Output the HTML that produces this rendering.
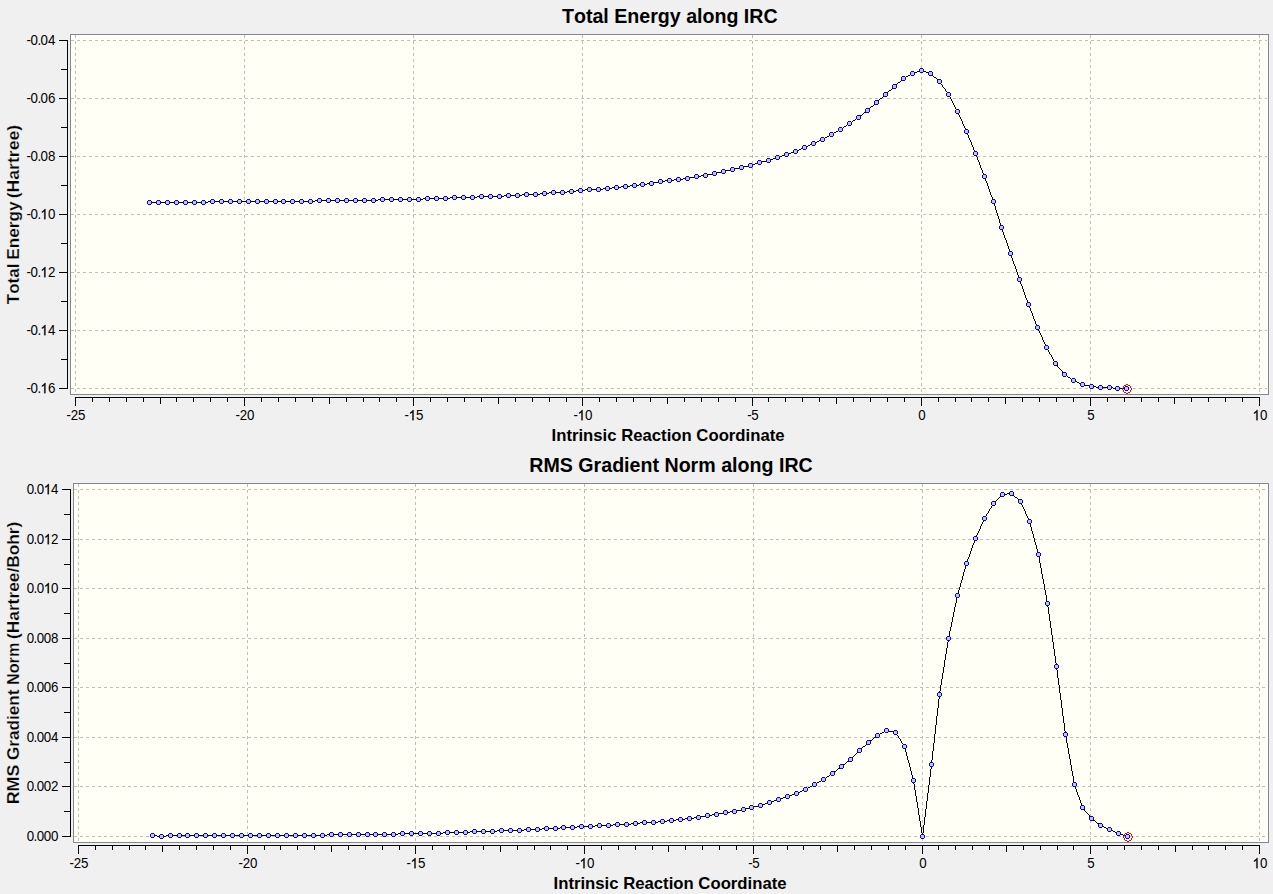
<!DOCTYPE html>
<html><head><meta charset="utf-8"><title>IRC</title>
<style>html,body{margin:0;padding:0;background:#F0F0F0;overflow:hidden}svg{display:block}text{font-family:"Liberation Sans",sans-serif;fill:#000;font-kerning:none}.tk text{font-size:13.33px}.tt{font-size:19.5px;font-weight:bold}.al{font-size:16.7px;font-weight:bold}.yl{stroke:#F0F0F0;stroke-width:0.22px}</style></head><body>
<svg width="1273" height="894" viewBox="0 0 1273 894">
<defs>
<g id="m" shape-rendering="crispEdges"><rect x="-1" y="-1" width="3" height="3" fill="#C8C8C8"/><path fill="#0000FF" d="M-1 -2h3v1h-3zM-1 2h3v1h-3zM-2 -1h1v3h-1zM2 -1h1v3h-1z"/></g>
<path id="r" fill="#FF0000" shape-rendering="crispEdges" d="M0 -4h1v1h-1zM1 -4h1v1h-1zM-2 -3h1v1h-1zM-1 -3h1v1h-1zM2 -3h1v1h-1zM3 -3h1v1h-1zM-3 -2h1v1h-1zM4 -2h1v1h-1zM-3 -1h1v1h-1zM4 -1h1v1h-1zM-4 0h1v1h-1zM5 0h1v1h-1zM-4 1h1v1h-1zM5 1h1v1h-1zM-3 2h1v1h-1zM4 2h1v1h-1zM-3 3h1v1h-1zM4 3h1v1h-1zM-2 4h1v1h-1zM-1 4h1v1h-1zM2 4h1v1h-1zM3 4h1v1h-1zM0 5h1v1h-1zM1 5h1v1h-1z"/>
<path id="one" fill="#000" stroke="#000" stroke-width="40" shape-rendering="geometricPrecision" d="M763 0L583 0L583 1147Q518 1085 412.5 1023Q307 961 223 930L223 1104Q374 1175 487 1276Q600 1377 647 1472L763 1472Z"/>
</defs>
<rect width="1273" height="894" fill="#F0F0F0"/>
<g shape-rendering="crispEdges">
<rect x="70.5" y="34.5" width="1198" height="360" fill="#FFFFF5" stroke="#828790"/>
<g stroke="#BEBEBE" stroke-dasharray="3 3" fill="none">
<line x1="71" y1="40.5" x2="1267" y2="40.5"/>
<line x1="71" y1="98.5" x2="1267" y2="98.5"/>
<line x1="71" y1="156.5" x2="1267" y2="156.5"/>
<line x1="71" y1="214.5" x2="1267" y2="214.5"/>
<line x1="71" y1="272.5" x2="1267" y2="272.5"/>
<line x1="71" y1="330.5" x2="1267" y2="330.5"/>
<line x1="71" y1="388.5" x2="1267" y2="388.5"/>
<line x1="75.5" y1="35" x2="75.5" y2="393"/>
<line x1="244.5" y1="35" x2="244.5" y2="393"/>
<line x1="413.5" y1="35" x2="413.5" y2="393"/>
<line x1="582.5" y1="35" x2="582.5" y2="393"/>
<line x1="752.5" y1="35" x2="752.5" y2="393"/>
<line x1="921.5" y1="35" x2="921.5" y2="393"/>
<line x1="1090.5" y1="35" x2="1090.5" y2="393"/>
<line x1="1259.5" y1="35" x2="1259.5" y2="393"/>
</g>
<g fill="#000">
<rect x="67" y="40" width="1" height="349"/>
<rect x="59" y="40" width="8" height="1"/>
<rect x="59" y="98" width="8" height="1"/>
<rect x="59" y="156" width="8" height="1"/>
<rect x="59" y="214" width="8" height="1"/>
<rect x="59" y="272" width="8" height="1"/>
<rect x="59" y="330" width="8" height="1"/>
<rect x="59" y="388" width="8" height="1"/>
<rect x="61" y="69" width="6" height="1"/>
<rect x="61" y="127" width="6" height="1"/>
<rect x="61" y="185" width="6" height="1"/>
<rect x="61" y="243" width="6" height="1"/>
<rect x="61" y="301" width="6" height="1"/>
<rect x="61" y="359" width="6" height="1"/>
<rect x="75" y="397" width="1185" height="1"/>
<rect x="75" y="397" width="1" height="9"/>
<rect x="92" y="397" width="1" height="5"/>
<rect x="109" y="397" width="1" height="5"/>
<rect x="126" y="397" width="1" height="5"/>
<rect x="143" y="397" width="1" height="5"/>
<rect x="160" y="397" width="1" height="7"/>
<rect x="176" y="397" width="1" height="5"/>
<rect x="193" y="397" width="1" height="5"/>
<rect x="210" y="397" width="1" height="5"/>
<rect x="227" y="397" width="1" height="5"/>
<rect x="244" y="397" width="1" height="9"/>
<rect x="261" y="397" width="1" height="5"/>
<rect x="278" y="397" width="1" height="5"/>
<rect x="295" y="397" width="1" height="5"/>
<rect x="312" y="397" width="1" height="5"/>
<rect x="329" y="397" width="1" height="7"/>
<rect x="346" y="397" width="1" height="5"/>
<rect x="363" y="397" width="1" height="5"/>
<rect x="379" y="397" width="1" height="5"/>
<rect x="396" y="397" width="1" height="5"/>
<rect x="413" y="397" width="1" height="9"/>
<rect x="430" y="397" width="1" height="5"/>
<rect x="447" y="397" width="1" height="5"/>
<rect x="464" y="397" width="1" height="5"/>
<rect x="481" y="397" width="1" height="5"/>
<rect x="498" y="397" width="1" height="7"/>
<rect x="515" y="397" width="1" height="5"/>
<rect x="532" y="397" width="1" height="5"/>
<rect x="549" y="397" width="1" height="5"/>
<rect x="566" y="397" width="1" height="5"/>
<rect x="582" y="397" width="1" height="9"/>
<rect x="599" y="397" width="1" height="5"/>
<rect x="616" y="397" width="1" height="5"/>
<rect x="633" y="397" width="1" height="5"/>
<rect x="650" y="397" width="1" height="5"/>
<rect x="667" y="397" width="1" height="7"/>
<rect x="684" y="397" width="1" height="5"/>
<rect x="701" y="397" width="1" height="5"/>
<rect x="718" y="397" width="1" height="5"/>
<rect x="735" y="397" width="1" height="5"/>
<rect x="752" y="397" width="1" height="9"/>
<rect x="768" y="397" width="1" height="5"/>
<rect x="785" y="397" width="1" height="5"/>
<rect x="802" y="397" width="1" height="5"/>
<rect x="819" y="397" width="1" height="5"/>
<rect x="836" y="397" width="1" height="7"/>
<rect x="853" y="397" width="1" height="5"/>
<rect x="870" y="397" width="1" height="5"/>
<rect x="887" y="397" width="1" height="5"/>
<rect x="904" y="397" width="1" height="5"/>
<rect x="921" y="397" width="1" height="9"/>
<rect x="938" y="397" width="1" height="5"/>
<rect x="955" y="397" width="1" height="5"/>
<rect x="971" y="397" width="1" height="5"/>
<rect x="988" y="397" width="1" height="5"/>
<rect x="1005" y="397" width="1" height="7"/>
<rect x="1022" y="397" width="1" height="5"/>
<rect x="1039" y="397" width="1" height="5"/>
<rect x="1056" y="397" width="1" height="5"/>
<rect x="1073" y="397" width="1" height="5"/>
<rect x="1090" y="397" width="1" height="9"/>
<rect x="1107" y="397" width="1" height="5"/>
<rect x="1124" y="397" width="1" height="5"/>
<rect x="1141" y="397" width="1" height="5"/>
<rect x="1158" y="397" width="1" height="5"/>
<rect x="1174" y="397" width="1" height="7"/>
<rect x="1191" y="397" width="1" height="5"/>
<rect x="1208" y="397" width="1" height="5"/>
<rect x="1225" y="397" width="1" height="5"/>
<rect x="1242" y="397" width="1" height="5"/>
<rect x="1259" y="397" width="1" height="9"/>
</g>
<g class="tk">
<text transform="translate(55.3 45.2) scale(1 1.065)" x="-28.83 -24.74 -17.88 -14.83 -7.41">-0.04</text>
<text transform="translate(55.3 103.2) scale(1 1.065)" x="-28.83 -24.74 -17.88 -14.83 -7.41">-0.06</text>
<text transform="translate(55.3 161.2) scale(1 1.065)" x="-28.83 -24.74 -17.88 -14.83 -7.41">-0.08</text>
<text transform="translate(55.3 219.2) scale(1 1.065)" x="-28.83 -24.74 -17.88 -14.83 -7.41">-0. 0</text>
<use href="#one" transform="translate(40.47 219.2) scale(0.006509 -0.006932)"/>
<text transform="translate(55.3 277.2) scale(1 1.065)" x="-28.83 -24.74 -17.88 -14.83 -7.41">-0. 2</text>
<use href="#one" transform="translate(40.47 277.2) scale(0.006509 -0.006932)"/>
<text transform="translate(55.3 335.2) scale(1 1.065)" x="-28.83 -24.74 -17.88 -14.83 -7.41">-0. 4</text>
<use href="#one" transform="translate(40.47 335.2) scale(0.006509 -0.006932)"/>
<text transform="translate(55.3 393.2) scale(1 1.065)" x="-28.83 -24.74 -17.88 -14.83 -7.41">-0. 6</text>
<use href="#one" transform="translate(40.47 393.2) scale(0.006509 -0.006932)"/>
<text transform="translate(76.0 420.2) scale(1 1.065)" x="-9.46 -5.37 2.04">-25</text>
<text transform="translate(245.0 420.2) scale(1 1.065)" x="-9.46 -5.37 2.04">-20</text>
<text transform="translate(414.0 420.2) scale(1 1.065)" x="-9.46 -5.37 2.04">- 5</text>
<use href="#one" transform="translate(408.63 420.2) scale(0.006509 -0.006932)"/>
<text transform="translate(583.0 420.2) scale(1 1.065)" x="-9.46 -5.37 2.04">- 0</text>
<use href="#one" transform="translate(577.63 420.2) scale(0.006509 -0.006932)"/>
<text transform="translate(753.0 420.2) scale(1 1.065)" x="-5.75 -1.66">-5</text>
<text transform="translate(922.0 420.2) scale(1 1.065)" x="-3.71">0</text>
<text transform="translate(1091.0 420.2) scale(1 1.065)" x="-3.71">5</text>
<text transform="translate(1260.0 420.2) scale(1 1.065)" x="-7.41 0.00"> 0</text>
<use href="#one" transform="translate(1252.59 420.2) scale(0.006509 -0.006932)"/>
</g>
<text class="tt" x="561.9499999999999" y="23" textLength="215.7" lengthAdjust="spacingAndGlyphs">Total Energy along IRC</text>
<text class="al" x="551.55" y="441" textLength="233.0" lengthAdjust="spacingAndGlyphs">Intrinsic Reaction Coordinate</text>
<text class="al yl" transform="translate(19 304.24) rotate(-90)" x="0" y="0" textLength="40.63" lengthAdjust="spacingAndGlyphs">Total</text>
<text class="al yl" transform="translate(19 259.76) rotate(-90)" x="0" y="0" textLength="58.46" lengthAdjust="spacingAndGlyphs">Energy</text>
<text class="al yl" transform="translate(19 198.36) rotate(-90)" x="0" y="0" textLength="73.48" lengthAdjust="spacingAndGlyphs">(Hartree)</text>
<path fill="#000" d="M149 202h59v1h-59zM208 201h107v1h-107zM315 200h63v1h-63zM378 199h45v1h-45zM423 198h27v1h-27zM450 197h27v1h-27zM477 196h27v1h-27zM504 195h18v1h-18zM522 194h18v1h-18zM540 193h9v1h-9zM549 192h18v1h-18zM567 191h9v1h-9zM576 190h9v1h-9zM585 189h18v1h-18zM603 188h9v1h-9zM612 187h9v1h-9zM621 186h9v1h-9zM630 185h9v1h-9zM639 184h8v1h-8zM647 183h7v1h-7zM654 182h4v1h-4zM658 181h7v1h-7zM665 180h9v1h-9zM674 179h9v1h-9zM683 178h7v1h-7zM690 177h4v1h-4zM694 176h7v1h-7zM701 175h7v1h-7zM708 174h4v1h-4zM712 173h5v1h-5zM717 172h4v1h-4zM721 171h5v1h-5zM726 170h4v1h-4zM730 169h5v1h-5zM735 168h4v1h-4zM739 167h5v1h-5zM744 166h4v1h-4zM748 165h4v1h-4zM752 164h3v1h-3zM755 163h3v1h-3zM758 162h4v1h-4zM762 161h4v1h-4zM766 160h4v1h-4zM770 159h3v1h-3zM773 158h3v1h-3zM776 157h3v1h-3zM779 156h3v1h-3zM782 155h3v1h-3zM785 154h3v1h-3zM788 153h3v1h-3zM791 152h3v1h-3zM794 151h3v1h-3zM797 150h2v1h-2zM799 149h2v1h-2zM801 148h2v1h-2zM803 147h3v1h-3zM806 146h2v1h-2zM808 145h2v1h-2zM810 144h2v1h-2zM812 143h3v1h-3zM815 142h2v1h-2zM817 141h2v1h-2zM819 140h2v1h-2zM821 139h2v1h-2zM823 138h2v1h-2zM825 137h2v1h-2zM827 136h2v1h-2zM829 135h2v1h-2zM831 134h1v1h-1zM832 133h2v1h-2zM834 132h2v1h-2zM836 131h2v1h-2zM838 130h2v1h-2zM840 129h1v1h-1zM841 128h2v1h-2zM843 127h1v1h-1zM844 126h2v1h-2zM846 125h1v1h-1zM847 124h2v1h-2zM849 123h1v1h-1zM850 122h2v1h-2zM852 121h1v1h-1zM853 120h2v1h-2zM855 119h1v1h-1zM856 118h2v1h-2zM858 117h1v1h-1zM859 116h1v1h-1zM860 115h2v1h-2zM862 114h1v1h-1zM863 113h1v1h-1zM864 112h2v1h-2zM866 111h1v1h-1zM867 110h1v1h-1zM868 109h1v1h-1zM869 108h1v1h-1zM870 107h1v1h-1zM871 106h2v1h-2zM873 105h1v1h-1zM874 104h1v1h-1zM875 103h1v1h-1zM876 102h1v1h-1zM877 101h1v1h-1zM878 100h1v1h-1zM879 99h1v1h-1zM880 98h2v1h-2zM882 97h1v1h-1zM883 96h1v1h-1zM884 95h1v1h-1zM885 94h1v1h-1zM886 93h1v1h-1zM887 92h1v1h-1zM888 91h1v1h-1zM889 90h2v1h-2zM891 89h1v1h-1zM892 88h1v1h-1zM893 87h1v1h-1zM894 86h1v1h-1zM895 85h1v1h-1zM896 84h1v1h-1zM897 83h1v1h-1zM898 82h2v1h-2zM900 81h1v1h-1zM901 80h1v1h-1zM902 79h1v1h-1zM903 78h1v1h-1zM904 77h2v1h-2zM906 76h2v1h-2zM908 75h2v1h-2zM910 74h2v1h-2zM912 73h2v1h-2zM914 72h3v1h-3zM917 71h3v1h-3zM920 70h3v1h-3zM923 71h3v1h-3zM926 72h3v1h-3zM929 73h2v1h-2zM931 74h1v1h-1zM932 75h1v1h-1zM933 76h1v1h-1zM934 77h2v1h-2zM936 78h1v1h-1zM937 79h1v1h-1zM938 80h1v1h-1zM939 81h1v1h-1zM940 82h1v2h-1zM941 84h1v1h-1zM942 85h1v2h-1zM943 87h1v1h-1zM944 88h1v1h-1zM945 89h1v2h-1zM946 91h1v1h-1zM947 92h1v2h-1zM948 94h1v1h-1zM949 95h1v2h-1zM950 97h1v2h-1zM951 99h1v2h-1zM952 101h1v2h-1zM953 103h1v2h-1zM954 105h1v2h-1zM955 107h1v2h-1zM956 109h1v2h-1zM957 111h1v2h-1zM958 113h1v2h-1zM959 115h1v2h-1zM960 117h1v2h-1zM961 119h1v2h-1zM962 121h1v3h-1zM963 124h1v2h-1zM964 126h1v2h-1zM965 128h1v2h-1zM966 130h1v3h-1zM967 133h1v2h-1zM968 135h1v3h-1zM969 138h1v2h-1zM970 140h1v2h-1zM971 142h1v3h-1zM972 145h1v2h-1zM973 147h1v3h-1zM974 150h1v2h-1zM975 152h1v3h-1zM976 155h1v2h-1zM977 157h1v3h-1zM978 160h1v2h-1zM979 162h1v3h-1zM980 165h1v3h-1zM981 168h1v2h-1zM982 170h1v3h-1zM983 173h1v2h-1zM984 175h1v3h-1zM985 178h1v3h-1zM986 181h1v2h-1zM987 183h1v3h-1zM988 186h1v3h-1zM989 189h1v3h-1zM990 192h1v3h-1zM991 195h1v2h-1zM992 197h1v3h-1zM993 200h1v3h-1zM994 203h1v3h-1zM995 206h1v4h-1zM996 210h1v3h-1zM997 213h1v3h-1zM998 216h1v3h-1zM999 219h1v4h-1zM1000 223h1v3h-1zM1001 226h1v3h-1zM1002 229h1v3h-1zM1003 232h1v3h-1zM1004 235h1v3h-1zM1005 238h1v2h-1zM1006 240h1v3h-1zM1007 243h1v3h-1zM1008 246h1v3h-1zM1009 249h1v3h-1zM1010 252h1v3h-1zM1011 255h1v3h-1zM1012 258h1v3h-1zM1013 261h1v3h-1zM1014 264h1v2h-1zM1015 266h1v3h-1zM1016 269h1v3h-1zM1017 272h1v3h-1zM1018 275h1v3h-1zM1019 278h1v3h-1zM1020 281h1v3h-1zM1021 284h1v2h-1zM1022 286h1v3h-1zM1023 289h1v3h-1zM1024 292h1v3h-1zM1025 295h1v3h-1zM1026 298h1v2h-1zM1027 300h1v3h-1zM1028 303h1v3h-1zM1029 306h1v2h-1zM1030 308h1v3h-1zM1031 311h1v2h-1zM1032 313h1v3h-1zM1033 316h1v3h-1zM1034 319h1v2h-1zM1035 321h1v3h-1zM1036 324h1v2h-1zM1037 326h1v3h-1zM1038 329h1v2h-1zM1039 331h1v2h-1zM1040 333h1v2h-1zM1041 335h1v2h-1zM1042 337h1v3h-1zM1043 340h1v2h-1zM1044 342h1v2h-1zM1045 344h1v2h-1zM1046 346h1v2h-1zM1047 348h1v2h-1zM1048 350h1v2h-1zM1049 352h1v2h-1zM1050 354h1v1h-1zM1051 355h1v2h-1zM1052 357h1v2h-1zM1053 359h1v2h-1zM1054 361h1v2h-1zM1055 363h1v1h-1zM1056 364h1v1h-1zM1057 365h1v2h-1zM1058 367h1v1h-1zM1059 368h1v1h-1zM1060 369h1v1h-1zM1061 370h1v1h-1zM1062 371h1v2h-1zM1063 373h1v1h-1zM1064 374h1v1h-1zM1065 375h2v1h-2zM1067 376h1v1h-1zM1068 377h2v1h-2zM1070 378h1v1h-1zM1071 379h2v1h-2zM1073 380h2v1h-2zM1075 381h2v1h-2zM1077 382h2v1h-2zM1079 383h2v1h-2zM1081 384h4v1h-4zM1085 385h4v1h-4zM1089 386h7v1h-7zM1096 387h17v1h-17zM1113 388h14v1h-14z"/>
<use href="#m" x="149" y="202"/>
<use href="#m" x="158" y="202"/>
<use href="#m" x="167" y="202"/>
<use href="#m" x="176" y="202"/>
<use href="#m" x="185" y="202"/>
<use href="#m" x="194" y="202"/>
<use href="#m" x="203" y="202"/>
<use href="#m" x="212" y="201"/>
<use href="#m" x="221" y="201"/>
<use href="#m" x="230" y="201"/>
<use href="#m" x="239" y="201"/>
<use href="#m" x="248" y="201"/>
<use href="#m" x="257" y="201"/>
<use href="#m" x="266" y="201"/>
<use href="#m" x="275" y="201"/>
<use href="#m" x="283" y="201"/>
<use href="#m" x="292" y="201"/>
<use href="#m" x="301" y="201"/>
<use href="#m" x="310" y="201"/>
<use href="#m" x="319" y="200"/>
<use href="#m" x="328" y="200"/>
<use href="#m" x="337" y="200"/>
<use href="#m" x="346" y="200"/>
<use href="#m" x="355" y="200"/>
<use href="#m" x="364" y="200"/>
<use href="#m" x="373" y="200"/>
<use href="#m" x="382" y="199"/>
<use href="#m" x="391" y="199"/>
<use href="#m" x="400" y="199"/>
<use href="#m" x="409" y="199"/>
<use href="#m" x="418" y="199"/>
<use href="#m" x="427" y="198"/>
<use href="#m" x="436" y="198"/>
<use href="#m" x="445" y="198"/>
<use href="#m" x="454" y="197"/>
<use href="#m" x="463" y="197"/>
<use href="#m" x="472" y="197"/>
<use href="#m" x="481" y="196"/>
<use href="#m" x="490" y="196"/>
<use href="#m" x="499" y="196"/>
<use href="#m" x="508" y="195"/>
<use href="#m" x="517" y="195"/>
<use href="#m" x="526" y="194"/>
<use href="#m" x="535" y="194"/>
<use href="#m" x="544" y="193"/>
<use href="#m" x="553" y="192"/>
<use href="#m" x="562" y="192"/>
<use href="#m" x="571" y="191"/>
<use href="#m" x="580" y="190"/>
<use href="#m" x="589" y="189"/>
<use href="#m" x="598" y="189"/>
<use href="#m" x="607" y="188"/>
<use href="#m" x="616" y="187"/>
<use href="#m" x="625" y="186"/>
<use href="#m" x="634" y="185"/>
<use href="#m" x="642" y="184"/>
<use href="#m" x="651" y="183"/>
<use href="#m" x="660" y="181"/>
<use href="#m" x="669" y="180"/>
<use href="#m" x="678" y="179"/>
<use href="#m" x="687" y="178"/>
<use href="#m" x="696" y="176"/>
<use href="#m" x="705" y="175"/>
<use href="#m" x="714" y="173"/>
<use href="#m" x="723" y="171"/>
<use href="#m" x="732" y="169"/>
<use href="#m" x="741" y="167"/>
<use href="#m" x="750" y="165"/>
<use href="#m" x="759" y="162"/>
<use href="#m" x="768" y="160"/>
<use href="#m" x="777" y="157"/>
<use href="#m" x="786" y="154"/>
<use href="#m" x="795" y="151"/>
<use href="#m" x="804" y="147"/>
<use href="#m" x="813" y="143"/>
<use href="#m" x="822" y="139"/>
<use href="#m" x="831" y="134"/>
<use href="#m" x="840" y="129"/>
<use href="#m" x="849" y="123"/>
<use href="#m" x="858" y="117"/>
<use href="#m" x="867" y="110"/>
<use href="#m" x="876" y="102"/>
<use href="#m" x="885" y="94"/>
<use href="#m" x="894" y="86"/>
<use href="#m" x="903" y="78"/>
<use href="#m" x="912" y="73"/>
<use href="#m" x="921" y="70"/>
<use href="#m" x="930" y="73"/>
<use href="#m" x="939" y="81"/>
<use href="#m" x="948" y="94"/>
<use href="#m" x="957" y="111"/>
<use href="#m" x="966" y="131"/>
<use href="#m" x="975" y="153"/>
<use href="#m" x="984" y="176"/>
<use href="#m" x="993" y="201"/>
<use href="#m" x="1001" y="227"/>
<use href="#m" x="1010" y="253"/>
<use href="#m" x="1019" y="279"/>
<use href="#m" x="1028" y="304"/>
<use href="#m" x="1037" y="327"/>
<use href="#m" x="1046" y="347"/>
<use href="#m" x="1055" y="363"/>
<use href="#m" x="1064" y="374"/>
<use href="#m" x="1073" y="380"/>
<use href="#m" x="1082" y="384"/>
<use href="#m" x="1091" y="386"/>
<use href="#m" x="1100" y="387"/>
<use href="#m" x="1109" y="387"/>
<use href="#m" x="1117" y="388"/>
<use href="#m" x="1126" y="388"/>
<use href="#r" x="1126" y="388"/>
<rect x="73.5" y="483.5" width="1195" height="359" fill="#FFFFF5" stroke="#828790"/>
<g stroke="#BEBEBE" stroke-dasharray="3 3" fill="none">
<line x1="74" y1="489.5" x2="1267" y2="489.5"/>
<line x1="74" y1="539.5" x2="1267" y2="539.5"/>
<line x1="74" y1="588.5" x2="1267" y2="588.5"/>
<line x1="74" y1="638.5" x2="1267" y2="638.5"/>
<line x1="74" y1="687.5" x2="1267" y2="687.5"/>
<line x1="74" y1="737.5" x2="1267" y2="737.5"/>
<line x1="74" y1="786.5" x2="1267" y2="786.5"/>
<line x1="74" y1="836.5" x2="1267" y2="836.5"/>
<line x1="78.5" y1="484" x2="78.5" y2="841"/>
<line x1="247.5" y1="484" x2="247.5" y2="841"/>
<line x1="415.5" y1="484" x2="415.5" y2="841"/>
<line x1="584.5" y1="484" x2="584.5" y2="841"/>
<line x1="753.5" y1="484" x2="753.5" y2="841"/>
<line x1="922.5" y1="484" x2="922.5" y2="841"/>
<line x1="1090.5" y1="484" x2="1090.5" y2="841"/>
<line x1="1259.5" y1="484" x2="1259.5" y2="841"/>
</g>
<g fill="#000">
<rect x="70" y="489" width="1" height="348"/>
<rect x="62" y="489" width="8" height="1"/>
<rect x="62" y="539" width="8" height="1"/>
<rect x="62" y="588" width="8" height="1"/>
<rect x="62" y="638" width="8" height="1"/>
<rect x="62" y="687" width="8" height="1"/>
<rect x="62" y="737" width="8" height="1"/>
<rect x="62" y="786" width="8" height="1"/>
<rect x="62" y="836" width="8" height="1"/>
<rect x="64" y="514" width="6" height="1"/>
<rect x="64" y="564" width="6" height="1"/>
<rect x="64" y="613" width="6" height="1"/>
<rect x="64" y="663" width="6" height="1"/>
<rect x="64" y="712" width="6" height="1"/>
<rect x="64" y="762" width="6" height="1"/>
<rect x="64" y="811" width="6" height="1"/>
<rect x="78" y="845" width="1182" height="1"/>
<rect x="78" y="845" width="1" height="9"/>
<rect x="95" y="845" width="1" height="5"/>
<rect x="112" y="845" width="1" height="5"/>
<rect x="129" y="845" width="1" height="5"/>
<rect x="145" y="845" width="1" height="5"/>
<rect x="162" y="845" width="1" height="7"/>
<rect x="179" y="845" width="1" height="5"/>
<rect x="196" y="845" width="1" height="5"/>
<rect x="213" y="845" width="1" height="5"/>
<rect x="230" y="845" width="1" height="5"/>
<rect x="247" y="845" width="1" height="9"/>
<rect x="264" y="845" width="1" height="5"/>
<rect x="280" y="845" width="1" height="5"/>
<rect x="297" y="845" width="1" height="5"/>
<rect x="314" y="845" width="1" height="5"/>
<rect x="331" y="845" width="1" height="7"/>
<rect x="348" y="845" width="1" height="5"/>
<rect x="365" y="845" width="1" height="5"/>
<rect x="382" y="845" width="1" height="5"/>
<rect x="399" y="845" width="1" height="5"/>
<rect x="415" y="845" width="1" height="9"/>
<rect x="432" y="845" width="1" height="5"/>
<rect x="449" y="845" width="1" height="5"/>
<rect x="466" y="845" width="1" height="5"/>
<rect x="483" y="845" width="1" height="5"/>
<rect x="500" y="845" width="1" height="7"/>
<rect x="517" y="845" width="1" height="5"/>
<rect x="534" y="845" width="1" height="5"/>
<rect x="550" y="845" width="1" height="5"/>
<rect x="567" y="845" width="1" height="5"/>
<rect x="584" y="845" width="1" height="9"/>
<rect x="601" y="845" width="1" height="5"/>
<rect x="618" y="845" width="1" height="5"/>
<rect x="635" y="845" width="1" height="5"/>
<rect x="652" y="845" width="1" height="5"/>
<rect x="668" y="845" width="1" height="7"/>
<rect x="685" y="845" width="1" height="5"/>
<rect x="702" y="845" width="1" height="5"/>
<rect x="719" y="845" width="1" height="5"/>
<rect x="736" y="845" width="1" height="5"/>
<rect x="753" y="845" width="1" height="9"/>
<rect x="770" y="845" width="1" height="5"/>
<rect x="787" y="845" width="1" height="5"/>
<rect x="803" y="845" width="1" height="5"/>
<rect x="820" y="845" width="1" height="5"/>
<rect x="837" y="845" width="1" height="7"/>
<rect x="854" y="845" width="1" height="5"/>
<rect x="871" y="845" width="1" height="5"/>
<rect x="888" y="845" width="1" height="5"/>
<rect x="905" y="845" width="1" height="5"/>
<rect x="922" y="845" width="1" height="9"/>
<rect x="938" y="845" width="1" height="5"/>
<rect x="955" y="845" width="1" height="5"/>
<rect x="972" y="845" width="1" height="5"/>
<rect x="989" y="845" width="1" height="5"/>
<rect x="1006" y="845" width="1" height="7"/>
<rect x="1023" y="845" width="1" height="5"/>
<rect x="1040" y="845" width="1" height="5"/>
<rect x="1057" y="845" width="1" height="5"/>
<rect x="1073" y="845" width="1" height="5"/>
<rect x="1090" y="845" width="1" height="9"/>
<rect x="1107" y="845" width="1" height="5"/>
<rect x="1124" y="845" width="1" height="5"/>
<rect x="1141" y="845" width="1" height="5"/>
<rect x="1158" y="845" width="1" height="5"/>
<rect x="1175" y="845" width="1" height="7"/>
<rect x="1192" y="845" width="1" height="5"/>
<rect x="1208" y="845" width="1" height="5"/>
<rect x="1225" y="845" width="1" height="5"/>
<rect x="1242" y="845" width="1" height="5"/>
<rect x="1259" y="845" width="1" height="9"/>
</g>
<g class="tk">
<text transform="translate(58.5 494.2) scale(1 1.065)" x="-31.76 -24.89 -21.84 -14.63 -7.41">0.0 4</text>
<use href="#one" transform="translate(43.87 494.2) scale(0.006509 -0.006932)"/>
<text transform="translate(58.5 544.2) scale(1 1.065)" x="-31.76 -24.89 -21.84 -14.63 -7.41">0.0 2</text>
<use href="#one" transform="translate(43.87 544.2) scale(0.006509 -0.006932)"/>
<text transform="translate(58.5 593.2) scale(1 1.065)" x="-31.76 -24.89 -21.84 -14.63 -7.41">0.0 0</text>
<use href="#one" transform="translate(43.87 593.2) scale(0.006509 -0.006932)"/>
<text transform="translate(58.5 643.2) scale(1 1.065)" x="-31.76 -24.89 -21.84 -14.63 -7.41">0.008</text>
<text transform="translate(58.5 692.2) scale(1 1.065)" x="-31.76 -24.89 -21.84 -14.63 -7.41">0.006</text>
<text transform="translate(58.5 742.2) scale(1 1.065)" x="-31.76 -24.89 -21.84 -14.63 -7.41">0.004</text>
<text transform="translate(58.5 791.2) scale(1 1.065)" x="-31.76 -24.89 -21.84 -14.63 -7.41">0.002</text>
<text transform="translate(58.5 841.2) scale(1 1.065)" x="-31.76 -24.89 -21.84 -14.63 -7.41">0.000</text>
<text transform="translate(79.0 868.2) scale(1 1.065)" x="-9.46 -5.37 2.04">-25</text>
<text transform="translate(248.0 868.2) scale(1 1.065)" x="-9.46 -5.37 2.04">-20</text>
<text transform="translate(416.0 868.2) scale(1 1.065)" x="-9.46 -5.37 2.04">- 5</text>
<use href="#one" transform="translate(410.63 868.2) scale(0.006509 -0.006932)"/>
<text transform="translate(585.0 868.2) scale(1 1.065)" x="-9.46 -5.37 2.04">- 0</text>
<use href="#one" transform="translate(579.63 868.2) scale(0.006509 -0.006932)"/>
<text transform="translate(754.0 868.2) scale(1 1.065)" x="-5.75 -1.66">-5</text>
<text transform="translate(923.0 868.2) scale(1 1.065)" x="-3.71">0</text>
<text transform="translate(1091.0 868.2) scale(1 1.065)" x="-3.71">5</text>
<text transform="translate(1260.0 868.2) scale(1 1.065)" x="-7.41 0.00"> 0</text>
<use href="#one" transform="translate(1252.59 868.2) scale(0.006509 -0.006932)"/>
</g>
<text class="tt" x="529.25" y="472.4" textLength="283.5" lengthAdjust="spacingAndGlyphs">RMS Gradient Norm along IRC</text>
<text class="al" x="553.55" y="889.0" textLength="233.0" lengthAdjust="spacingAndGlyphs">Intrinsic Reaction Coordinate</text>
<text class="al yl" transform="translate(19 804.28) rotate(-90)" x="0" y="0" textLength="39.65" lengthAdjust="spacingAndGlyphs">RMS</text>
<text class="al yl" transform="translate(19 760.08) rotate(-90)" x="0" y="0" textLength="70.47" lengthAdjust="spacingAndGlyphs">Gradient</text>
<text class="al yl" transform="translate(19 684.95) rotate(-90)" x="0" y="0" textLength="42.22" lengthAdjust="spacingAndGlyphs">Norm</text>
<text class="al yl" transform="translate(19 639.02) rotate(-90)" x="0" y="0" textLength="117.39" lengthAdjust="spacingAndGlyphs">(Hartree/Bohr)</text>
<path fill="#000" d="M152 835h5v1h-5zM157 836h9v1h-9zM166 835h161v1h-161zM327 834h71v1h-71zM398 833h45v1h-45zM443 832h27v1h-27zM470 831h27v1h-27zM497 830h27v1h-27zM524 829h18v1h-18zM542 828h18v1h-18zM560 827h17v1h-17zM577 826h18v1h-18zM595 825h18v1h-18zM613 824h18v1h-18zM631 823h9v1h-9zM640 822h18v1h-18zM658 821h9v1h-9zM667 820h9v1h-9zM676 819h9v1h-9zM685 818h9v1h-9zM694 817h7v1h-7zM701 816h4v1h-4zM705 815h7v1h-7zM712 814h7v1h-7zM719 813h4v1h-4zM723 812h7v1h-7zM730 811h7v1h-7zM737 810h4v1h-4zM741 809h5v1h-5zM746 808h4v1h-4zM750 807h4v1h-4zM754 806h4v1h-4zM758 805h4v1h-4zM762 804h3v1h-3zM765 803h3v1h-3zM768 802h3v1h-3zM771 801h3v1h-3zM774 800h3v1h-3zM777 799h3v1h-3zM780 798h3v1h-3zM783 797h3v1h-3zM786 796h3v1h-3zM789 795h3v1h-3zM792 794h3v1h-3zM795 793h3v1h-3zM798 792h2v1h-2zM800 791h2v1h-2zM802 790h2v1h-2zM804 789h2v1h-2zM806 788h2v1h-2zM808 787h2v1h-2zM810 786h2v1h-2zM812 785h2v1h-2zM814 784h1v1h-1zM815 783h2v1h-2zM817 782h2v1h-2zM819 781h2v1h-2zM821 780h2v1h-2zM823 779h1v1h-1zM824 778h2v1h-2zM826 777h1v1h-1zM827 776h2v1h-2zM829 775h1v1h-1zM830 774h2v1h-2zM832 773h1v1h-1zM833 772h1v1h-1zM834 771h2v1h-2zM836 770h1v1h-1zM837 769h1v1h-1zM838 768h2v1h-2zM840 767h1v1h-1zM841 766h1v1h-1zM842 765h1v1h-1zM843 764h2v1h-2zM845 763h1v1h-1zM846 762h1v1h-1zM847 761h2v1h-2zM849 760h1v1h-1zM850 759h1v1h-1zM851 758h1v1h-1zM852 757h1v1h-1zM853 756h1v1h-1zM854 755h1v1h-1zM855 754h1v1h-1zM856 753h1v1h-1zM857 752h1v1h-1zM858 751h1v1h-1zM859 750h1v1h-1zM860 749h1v1h-1zM861 748h1v1h-1zM862 747h1v1h-1zM863 746h2v1h-2zM865 745h1v1h-1zM866 744h1v1h-1zM867 743h1v1h-1zM868 742h1v1h-1zM869 741h1v1h-1zM870 740h2v1h-2zM872 739h1v1h-1zM873 738h1v1h-1zM874 737h2v1h-2zM876 736h1v1h-1zM877 735h1v1h-1zM878 734h2v1h-2zM880 733h2v1h-2zM882 732h2v1h-2zM884 731h2v1h-2zM886 730h3v1h-3zM889 731h4v1h-4zM893 732h3v1h-3zM896 733h1v2h-1zM897 735h1v1h-1zM898 736h1v2h-1zM899 738h1v1h-1zM900 739h1v2h-1zM901 741h1v2h-1zM902 743h1v1h-1zM903 744h1v2h-1zM904 746h1v2h-1zM905 748h1v4h-1zM906 752h1v4h-1zM907 756h1v4h-1zM908 760h1v3h-1zM909 763h1v4h-1zM910 767h1v4h-1zM911 771h1v4h-1zM912 775h1v4h-1zM913 779h1v5h-1zM914 784h1v6h-1zM915 790h1v6h-1zM916 796h1v6h-1zM917 802h1v6h-1zM918 808h1v7h-1zM919 815h1v6h-1zM920 821h1v6h-1zM921 827h1v6h-1zM922 833h1v4h-1zM923 825h1v8h-1zM924 817h1v8h-1zM925 809h1v8h-1zM926 801h1v8h-1zM927 793h1v8h-1zM928 785h1v8h-1zM929 777h1v8h-1zM930 769h1v8h-1zM931 760h1v9h-1zM932 751h1v9h-1zM933 743h1v8h-1zM934 734h1v9h-1zM935 725h1v9h-1zM936 716h1v9h-1zM937 708h1v8h-1zM938 699h1v9h-1zM939 691h1v8h-1zM940 685h1v6h-1zM941 679h1v6h-1zM942 673h1v6h-1zM943 667h1v6h-1zM944 660h1v7h-1zM945 654h1v6h-1zM946 648h1v6h-1zM947 642h1v6h-1zM948 636h1v6h-1zM949 631h1v5h-1zM950 627h1v4h-1zM951 622h1v5h-1zM952 617h1v5h-1zM953 612h1v5h-1zM954 607h1v5h-1zM955 603h1v4h-1zM956 598h1v5h-1zM957 594h1v4h-1zM958 590h1v4h-1zM959 587h1v3h-1zM960 583h1v4h-1zM961 580h1v3h-1zM962 576h1v4h-1zM963 572h1v4h-1zM964 569h1v3h-1zM965 565h1v4h-1zM966 562h1v3h-1zM967 559h1v3h-1zM968 557h1v2h-1zM969 554h1v3h-1zM970 551h1v3h-1zM971 548h1v3h-1zM972 545h1v3h-1zM973 543h1v2h-1zM974 540h1v3h-1zM975 537h1v3h-1zM976 535h1v2h-1zM977 533h1v2h-1zM978 531h1v2h-1zM979 529h1v2h-1zM980 526h1v3h-1zM981 524h1v2h-1zM982 522h1v2h-1zM983 520h1v2h-1zM984 518h1v2h-1zM985 516h1v2h-1zM986 514h1v2h-1zM987 513h1v1h-1zM988 511h1v2h-1zM989 509h1v2h-1zM990 508h1v1h-1zM991 506h1v2h-1zM992 504h1v2h-1zM993 503h1v1h-1zM994 502h1v1h-1zM995 501h1v1h-1zM996 500h1v1h-1zM997 499h1v1h-1zM998 498h1v1h-1zM999 497h1v1h-1zM1000 496h1v1h-1zM1001 495h1v1h-1zM1002 494h5v1h-5zM1007 493h5v1h-5zM1012 494h1v1h-1zM1013 495h1v1h-1zM1014 496h1v1h-1zM1015 497h2v1h-2zM1017 498h1v1h-1zM1018 499h1v1h-1zM1019 500h1v1h-1zM1020 501h1v2h-1zM1021 503h1v2h-1zM1022 505h1v2h-1zM1023 507h1v2h-1zM1024 509h1v2h-1zM1025 511h1v3h-1zM1026 514h1v2h-1zM1027 516h1v2h-1zM1028 518h1v2h-1zM1029 520h1v3h-1zM1030 523h1v4h-1zM1031 527h1v4h-1zM1032 531h1v3h-1zM1033 534h1v4h-1zM1034 538h1v4h-1zM1035 542h1v3h-1zM1036 545h1v4h-1zM1037 549h1v4h-1zM1038 553h1v4h-1zM1039 557h1v6h-1zM1040 563h1v5h-1zM1041 568h1v6h-1zM1042 574h1v5h-1zM1043 579h1v5h-1zM1044 584h1v6h-1zM1045 590h1v5h-1zM1046 595h1v6h-1zM1047 601h1v6h-1zM1048 607h1v7h-1zM1049 614h1v7h-1zM1050 621h1v7h-1zM1051 628h1v7h-1zM1052 635h1v7h-1zM1053 642h1v7h-1zM1054 649h1v7h-1zM1055 656h1v7h-1zM1056 663h1v7h-1zM1057 670h1v8h-1zM1058 678h1v7h-1zM1059 685h1v8h-1zM1060 693h1v7h-1zM1061 700h1v8h-1zM1062 708h1v8h-1zM1063 716h1v7h-1zM1064 723h1v8h-1zM1065 731h1v6h-1zM1066 737h1v6h-1zM1067 743h1v5h-1zM1068 748h1v6h-1zM1069 754h1v5h-1zM1070 759h1v6h-1zM1071 765h1v6h-1zM1072 771h1v5h-1zM1073 776h1v6h-1zM1074 782h1v4h-1zM1075 786h1v3h-1zM1076 789h1v3h-1zM1077 792h1v3h-1zM1078 795h1v2h-1zM1079 797h1v3h-1zM1080 800h1v3h-1zM1081 803h1v3h-1zM1082 806h1v2h-1zM1083 808h1v1h-1zM1084 809h1v2h-1zM1085 811h1v1h-1zM1086 812h1v1h-1zM1087 813h1v1h-1zM1088 814h1v1h-1zM1089 815h1v2h-1zM1090 817h1v1h-1zM1091 818h1v1h-1zM1092 819h1v1h-1zM1093 820h2v1h-2zM1095 821h1v1h-1zM1096 822h1v1h-1zM1097 823h2v1h-2zM1099 824h1v1h-1zM1100 825h2v1h-2zM1102 826h2v1h-2zM1104 827h2v1h-2zM1106 828h2v1h-2zM1108 829h3v1h-3zM1111 830h2v1h-2zM1113 831h2v1h-2zM1115 832h2v1h-2zM1117 833h3v1h-3zM1120 834h3v1h-3zM1123 835h3v1h-3zM1126 836h2v1h-2z"/>
<use href="#m" x="152" y="835"/>
<use href="#m" x="161" y="836"/>
<use href="#m" x="170" y="835"/>
<use href="#m" x="179" y="835"/>
<use href="#m" x="187" y="835"/>
<use href="#m" x="196" y="835"/>
<use href="#m" x="205" y="835"/>
<use href="#m" x="214" y="835"/>
<use href="#m" x="223" y="835"/>
<use href="#m" x="232" y="835"/>
<use href="#m" x="241" y="835"/>
<use href="#m" x="250" y="835"/>
<use href="#m" x="259" y="835"/>
<use href="#m" x="268" y="835"/>
<use href="#m" x="277" y="835"/>
<use href="#m" x="286" y="835"/>
<use href="#m" x="295" y="835"/>
<use href="#m" x="304" y="835"/>
<use href="#m" x="313" y="835"/>
<use href="#m" x="322" y="835"/>
<use href="#m" x="331" y="834"/>
<use href="#m" x="340" y="834"/>
<use href="#m" x="349" y="834"/>
<use href="#m" x="358" y="834"/>
<use href="#m" x="367" y="834"/>
<use href="#m" x="375" y="834"/>
<use href="#m" x="384" y="834"/>
<use href="#m" x="393" y="834"/>
<use href="#m" x="402" y="833"/>
<use href="#m" x="411" y="833"/>
<use href="#m" x="420" y="833"/>
<use href="#m" x="429" y="833"/>
<use href="#m" x="438" y="833"/>
<use href="#m" x="447" y="832"/>
<use href="#m" x="456" y="832"/>
<use href="#m" x="465" y="832"/>
<use href="#m" x="474" y="831"/>
<use href="#m" x="483" y="831"/>
<use href="#m" x="492" y="831"/>
<use href="#m" x="501" y="830"/>
<use href="#m" x="510" y="830"/>
<use href="#m" x="519" y="830"/>
<use href="#m" x="528" y="829"/>
<use href="#m" x="537" y="829"/>
<use href="#m" x="546" y="828"/>
<use href="#m" x="555" y="828"/>
<use href="#m" x="563" y="827"/>
<use href="#m" x="572" y="827"/>
<use href="#m" x="581" y="826"/>
<use href="#m" x="590" y="826"/>
<use href="#m" x="599" y="825"/>
<use href="#m" x="608" y="825"/>
<use href="#m" x="617" y="824"/>
<use href="#m" x="626" y="824"/>
<use href="#m" x="635" y="823"/>
<use href="#m" x="644" y="822"/>
<use href="#m" x="653" y="822"/>
<use href="#m" x="662" y="821"/>
<use href="#m" x="671" y="820"/>
<use href="#m" x="680" y="819"/>
<use href="#m" x="689" y="818"/>
<use href="#m" x="698" y="817"/>
<use href="#m" x="707" y="815"/>
<use href="#m" x="716" y="814"/>
<use href="#m" x="725" y="812"/>
<use href="#m" x="734" y="811"/>
<use href="#m" x="743" y="809"/>
<use href="#m" x="751" y="807"/>
<use href="#m" x="760" y="805"/>
<use href="#m" x="769" y="802"/>
<use href="#m" x="778" y="799"/>
<use href="#m" x="787" y="796"/>
<use href="#m" x="796" y="793"/>
<use href="#m" x="805" y="789"/>
<use href="#m" x="814" y="784"/>
<use href="#m" x="823" y="779"/>
<use href="#m" x="832" y="773"/>
<use href="#m" x="841" y="766"/>
<use href="#m" x="850" y="759"/>
<use href="#m" x="859" y="750"/>
<use href="#m" x="868" y="742"/>
<use href="#m" x="877" y="735"/>
<use href="#m" x="886" y="730"/>
<use href="#m" x="895" y="732"/>
<use href="#m" x="904" y="746"/>
<use href="#m" x="913" y="780"/>
<use href="#m" x="922" y="836"/>
<use href="#m" x="931" y="764"/>
<use href="#m" x="939" y="694"/>
<use href="#m" x="948" y="638"/>
<use href="#m" x="957" y="595"/>
<use href="#m" x="966" y="563"/>
<use href="#m" x="975" y="538"/>
<use href="#m" x="984" y="518"/>
<use href="#m" x="993" y="503"/>
<use href="#m" x="1002" y="494"/>
<use href="#m" x="1011" y="493"/>
<use href="#m" x="1020" y="501"/>
<use href="#m" x="1029" y="521"/>
<use href="#m" x="1038" y="554"/>
<use href="#m" x="1047" y="603"/>
<use href="#m" x="1056" y="666"/>
<use href="#m" x="1065" y="734"/>
<use href="#m" x="1074" y="784"/>
<use href="#m" x="1082" y="807"/>
<use href="#m" x="1091" y="818"/>
<use href="#m" x="1100" y="825"/>
<use href="#m" x="1109" y="829"/>
<use href="#m" x="1118" y="833"/>
<use href="#m" x="1127" y="836"/>
<use href="#r" x="1127" y="836"/>
</g>
</svg></body></html>
